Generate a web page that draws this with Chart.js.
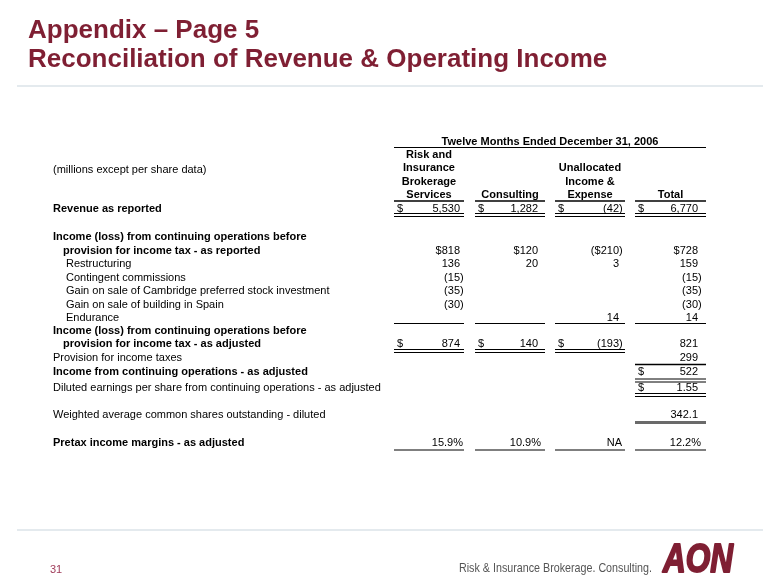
<!DOCTYPE html>
<html>
<head>
<meta charset="utf-8">
<script src="https://cdn.jsdelivr.net/npm/chart.js@4.4.0/dist/chart.umd.min.js"></script>
<style>
  html, body { margin: 0; padding: 0; background: #fff; }
  #wrap { width: 780px; height: 585px; }
</style>
</head>
<body>
<div id="wrap"><canvas id="slide" width="780" height="585"></canvas></div>
<script>
// slide texts
const titleLines = ["Appendix \u2013 Page 5", "Reconciliation of Revenue & Operating Income"];
const pageNumber = "31";
const tagline = "Risk & Insurance Brokerage. Consulting.";
const logoText = "AON";
const periodHeader = "Twelve Months Ended December 31, 2006";
const unitNote = "(millions except per share data)";
const columnHeaders = [
  ["Risk and", "Insurance", "Brokerage", "Services"],
  ["Consulting"],
  ["Unallocated", "Income &", "Expense"],
  ["Total"]
];

// rows of the table
const rowLabels = [
  "Revenue as reported",
  "Income (loss) from continuing operations before",
  "provision for income tax - as reported",
  "Restructuring",
  "Contingent commissions",
  "Gain on sale of Cambridge preferred stock investment",
  "Gain on sale of building in Spain",
  "Endurance",
  "Income (loss) from continuing operations before",
  "provision for income tax - as adjusted",
  "Provision for income taxes",
  "Income from continuing operations - as adjusted",
  "Diluted earnings per share from continuing operations - as adjusted",
  "Weighted average common shares outstanding - diluted",
  "Pretax income margins - as adjusted"
];
const brokerage   = [5530, null, 818, 136, -15, -35, -30, null, null, 874, null, null, null, null, 15.9];
const consulting  = [1282, null, 120, 20, null, null, null, null, null, 140, null, null, null, null, 10.9];
const unallocated = [-42, null, -210, 3, null, null, null, 14, null, -193, null, null, null, null, "NA"];
const total       = [6770, null, 728, 159, -15, -35, -30, 14, null, 821, 299, 522, 1.55, 342.1, 12.2];

// layout
const rowY      = [208, 236, 249.5, 263, 276.5, 290, 303.5, 317, 330, 342.5, 357, 371, 386.5, 413.5, 442];
const rowBold   = [1, 1, 1, 0, 0, 0, 0, 0, 1, 1, 0, 1, 0, 0, 1];
const rowIndent = [53, 53, 63, 66, 66, 66, 66, 66, 53, 63, 53, 53, 53, 53, 53];
// how the cells of each row are written
const rowFormat = ["acct", "num", "inline", "num", "num", "num", "num", "num", "num", "acct", "num", "acct", "acct", "num", "pct"];
const dollarCols = [[0, 1, 2, 3], [], [], [], [], [], [], [], [], [0, 1, 2], [], [3], [3], [], []];
const colStart = [394, 475, 555, 635];
const colEnd   = [464, 545, 625, 706];
const numEdge  = [460, 538, 619, 698];

const ink = "#000";
const maroon = "#7f1f33";
const FONT = "'Liberation Sans', Arial, sans-serif";
const BASE = 4; // cap centre -> baseline for 11px text

function fmt(v, kind) {
  if (typeof v === "string") return { body: v, tail: "" };
  const a = Math.abs(v).toLocaleString("en-US", { maximumFractionDigits: 2 });
  if (kind === "pct") return { body: a + "%", tail: "" };
  if (kind === "inline") return v < 0 ? { body: "($" + a, tail: ")" } : { body: "$" + a, tail: "" };
  return v < 0 ? { body: "(" + a, tail: ")" } : { body: a, tail: "" };
}

const tablePlugin = {
  id: "tablePlugin",
  afterDraw(chart) {
    const ctx = chart.ctx;
    const xs = chart.scales.x, ys = chart.scales.y;
    const X = (v) => xs.getPixelForValue(v);
    const Y = (v) => ys.getPixelForValue(v);
    const cols = [brokerage, consulting, unallocated, total];

    ctx.save();
    ctx.textBaseline = "alphabetic";

    // title
    ctx.fillStyle = maroon;
    ctx.font = "bold 26px " + FONT;
    ctx.textAlign = "left";
    ctx.fillText(titleLines[0], X(28), Y(38));
    ctx.fillText(titleLines[1], X(28), Y(67));

    // thin separators
    ctx.strokeStyle = "#dbe3e9";
    ctx.lineWidth = 1.5;
    [86, 530].forEach((y) => {
      ctx.beginPath();
      ctx.moveTo(X(17), Y(y));
      ctx.lineTo(X(763), Y(y));
      ctx.stroke();
    });

    // footer
    ctx.font = "11px " + FONT;
    ctx.fillStyle = "#a03c5a";
    ctx.fillText(pageNumber, X(50), Y(569 + BASE));
    ctx.fillStyle = "#555";
    ctx.font = "13px " + FONT;
    ctx.fillText(tagline, X(459), Y(572), 193);
    ctx.fillStyle = maroon;
    ctx.strokeStyle = maroon;
    ctx.lineWidth = 2;
    ctx.lineJoin = "round";
    ctx.font = "italic bold 40px " + FONT;
    ctx.fillText(logoText, X(663), Y(572), 70);
    ctx.strokeText(logoText, X(663), Y(572), 70);

    // header
    ctx.fillStyle = ink;
    ctx.font = "bold 11px " + FONT;
    ctx.textAlign = "center";
    ctx.fillText(periodHeader, X((colStart[0] + colEnd[3]) / 2), Y(140.5 + BASE));
    const headLineY = [154, 167, 180.5, 193.5];
    columnHeaders.forEach((lines, c) => {
      const cx = (colStart[c] + colEnd[c]) / 2;
      lines.forEach((t, i) => {
        const yy = headLineY[headLineY.length - lines.length + i];
        ctx.fillText(t, X(cx), Y(yy + BASE));
      });
    });
    ctx.textAlign = "left";
    ctx.font = "11px " + FONT;
    ctx.fillText(unitNote, X(53), Y(169 + BASE));

    // row labels
    rowLabels.forEach((t, r) => {
      ctx.font = (rowBold[r] ? "bold " : "") + "11px " + FONT;
      ctx.fillText(t, X(rowIndent[r]), Y(rowY[r] + BASE));
    });

    // cells
    ctx.font = "11px " + FONT;
    cols.forEach((vals, c) => {
      vals.forEach((v, r) => {
        if (v === null) return;
        const y = Y(rowY[r] + BASE);
        if (dollarCols[r].includes(c)) {
          ctx.textAlign = "left";
          ctx.fillText("$", X(colStart[c] + 3), y);
        }
        const f = fmt(v, rowFormat[r]);
        ctx.textAlign = "right";
        if (typeof v === "string" || rowFormat[r] === "pct") {
          ctx.fillText(f.body, X(numEdge[c] + 3), y);
        } else {
          ctx.fillText(f.body, X(numEdge[c]), y);
          if (f.tail) {
            ctx.textAlign = "left";
            ctx.fillText(f.tail, X(numEdge[c]), y);
          }
        }
      });
    });

    // rules
    function rule(x0, x1, y, w, color) {
      ctx.strokeStyle = color || ink;
      ctx.lineWidth = w;
      ctx.beginPath();
      ctx.moveTo(X(x0), Y(y));
      ctx.lineTo(X(x1), Y(y));
      ctx.stroke();
    }
    rule(colStart[0], colEnd[3], 147.5, 1.2);
    for (let c = 0; c < 4; c++) {
      rule(colStart[c], colEnd[c], 201, 1.4);
      rule(colStart[c], colEnd[c], 213.5, 1);
      rule(colStart[c], colEnd[c], 216.5, 1);
      rule(colStart[c], colEnd[c], 323.5, 1);
      rule(colStart[c], colEnd[c], 450, 1.2);
    }
    for (let c = 0; c < 3; c++) {
      rule(colStart[c], colEnd[c], 349.5, 1);
      rule(colStart[c], colEnd[c], 352.5, 1);
    }
    rule(colStart[3], colEnd[3], 364.5, 1.6);
    rule(colStart[3], colEnd[3], 379, 1);
    rule(colStart[3], colEnd[3], 382, 1);
    rule(colStart[3], colEnd[3], 393.5, 1);
    rule(colStart[3], colEnd[3], 396.5, 1);
    rule(colStart[3], colEnd[3], 422.5, 3, "#6a6a6a");

    ctx.restore();
  }
};

new Chart(document.getElementById("slide"), {
  type: "scatter",
  data: { datasets: [{ data: [], pointRadius: 0 }] },
  options: {
    responsive: false,
    animation: false,
    layout: { padding: 0 },
    plugins: { legend: { display: false }, tooltip: { enabled: false } },
    scales: {
      x: { type: "linear", min: 0, max: 780, display: false },
      y: { type: "linear", min: 0, max: 585, reverse: true, display: false }
    }
  },
  plugins: [tablePlugin]
});
</script>
</body>
</html>
